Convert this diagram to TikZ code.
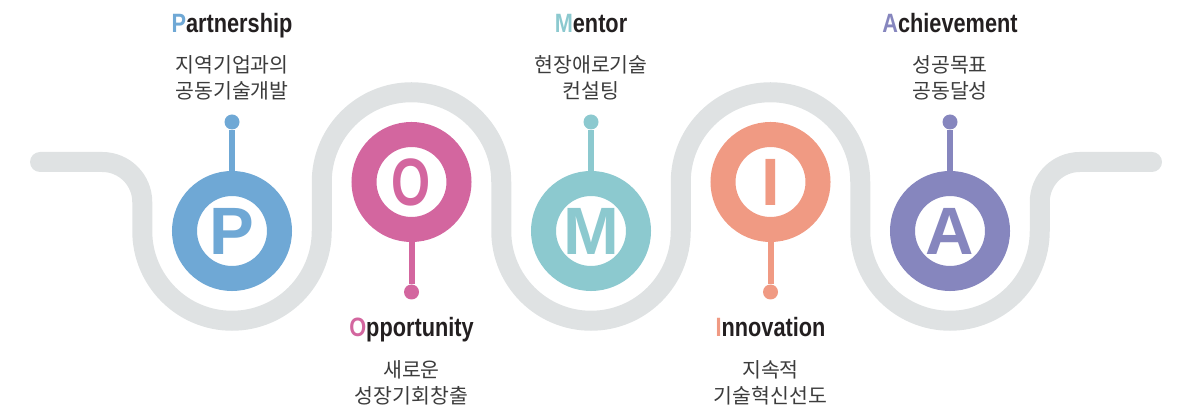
\documentclass[tikz,border=0pt]{standalone}
\usepackage{fontspec}
\setmainfont{Liberation Sans}
\newfontfamily\titlefont{Liberation Sans}[FakeStretch=0.82]
\newfontfamily\kofont{Noto Sans CJK KR}
\definecolor{pblue}{HTML}{6FA8D5}
\definecolor{opink}{HTML}{D3669F}
\definecolor{mteal}{HTML}{8CC9CF}
\definecolor{isalmon}{HTML}{F09A83}
\definecolor{apurple}{HTML}{8686BE}
\definecolor{trackgray}{HTML}{DFE2E3}
\definecolor{titlegray}{HTML}{231F20}
\definecolor{subgray}{HTML}{3C3C3C}

\begin{document}
\begin{tikzpicture}[x=1pt,y=1pt,
  ring/.style={circle,draw=#1,line width=25pt,fill=white,minimum size=95pt,inner sep=0pt,
    text=#1,font=\fontsize{67}{67}\selectfont\bfseries},
  knob/.style={circle,fill=#1,minimum size=15pt,inner sep=0pt},
  stem/.style={draw=#1,line width=6pt},
  title/.style={anchor=base,text=titlegray,font=\titlefont\fontsize{26.5}{30}\selectfont\bfseries},
  sub/.style={align=center,text=subgray,font=\kofont\fontsize{20.5}{26}\selectfont}]
\useasboundingbox (0,0) rectangle (1180,412);

% track
\draw[trackgray,line width=20pt,line cap=round]
  (40,250) -- (102.25,250) arc(90:0:40) -- (142.25,181)
  arc(180:360:89.75) -- (321.75,230)
  arc(180:0:89.75) -- (501.25,181)
  arc(180:360:89.75) -- (680.75,230)
  arc(180:0:89.75) -- (860.25,181)
  arc(180:360:89.75) -- (1039.75,210)
  arc(180:90:40) -- (1152,250);

% P
\node[ring=pblue] (P) at (232,181) {P};
\node[knob=pblue] (pknob) at (232,290) {};
\draw[stem=pblue] (P) -- (pknob);
\node[title] (ptitle) at (232,379) {\textcolor{pblue}{P}artnership};
\node[sub] (psub) at (232,334) {지역기업과의\\공동기술개발};

% O
\node[ring=opink] (O) at (411.5,230) {\scalebox{0.75}[1]{O}};
\node[knob=opink] (oknob) at (411.5,120) {};
\draw[stem=opink] (O) -- (oknob);
\node[title] (otitle) at (411.5,75) {\textcolor{opink}{O}pportunity};
\node[sub] (osub) at (411.5,29.5) {새로운\\성장기회창출};

% M
\node[ring=mteal] (M) at (591,181) {M};
\node[knob=mteal] (mknob) at (591,290) {};
\draw[stem=mteal] (M) -- (mknob);
\node[title] (mtitle) at (591,379) {\textcolor{mteal}{M}entor};
\node[sub] (msub) at (591,334) {현장애로기술\\컨설팅};

% I
\node[ring=isalmon] (I) at (770.5,230) {I};
\node[knob=isalmon] (iknob) at (770.5,120) {};
\draw[stem=isalmon] (I) -- (iknob);
\node[title] (ititle) at (770.5,75) {\textcolor{isalmon}{I}nnovation};
\node[sub] (isub) at (770.5,29.5) {지속적\\기술혁신선도};

% A
\node[ring=apurple] (A) at (950,181) {A};
\node[knob=apurple] (aknob) at (950,290) {};
\draw[stem=apurple] (A) -- (aknob);
\node[title] (atitle) at (950,379) {\textcolor{apurple}{A}chievement};
\node[sub] (asub) at (950,334) {성공목표\\공동달성};
\end{tikzpicture}
\end{document}
